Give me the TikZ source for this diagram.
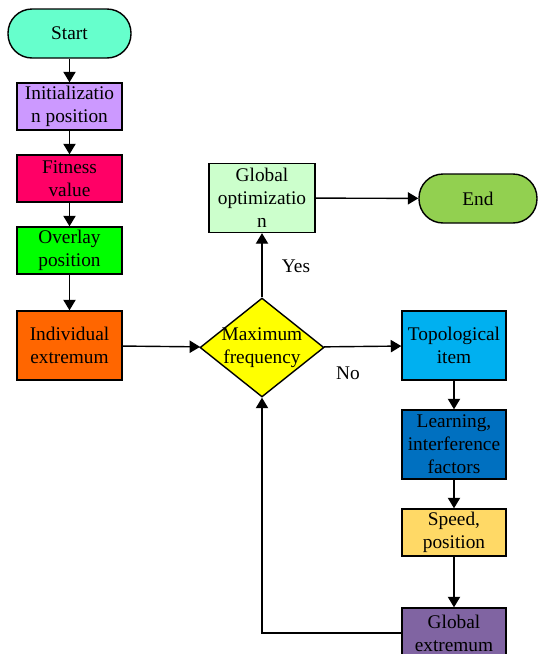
\documentclass[tikz,border=0pt]{standalone}
\usepackage{fontspec}
\setmainfont{Liberation Serif}
\usetikzlibrary{shapes.geometric,arrows.meta}
\definecolor{startCol}{HTML}{66FFCC}
\definecolor{initCol}{HTML}{CC99FF}
\definecolor{fitCol}{HTML}{FF0066}
\definecolor{overCol}{HTML}{00FF00}
\definecolor{indCol}{HTML}{FF6600}
\definecolor{freqCol}{HTML}{FFFF00}
\definecolor{gOptCol}{HTML}{CCFFCC}
\definecolor{endCol}{HTML}{92D050}
\definecolor{topoCol}{HTML}{00B0F0}
\definecolor{learnCol}{HTML}{0070C0}
\definecolor{speedCol}{HTML}{FFD966}
\definecolor{gExtCol}{HTML}{8064A2}

\begin{document}
\begin{tikzpicture}[x=0.02cm,y=-0.02cm,
    font=\rmfamily\fontsize{11}{13}\selectfont,
    stepbox/.style={draw, line width=0.8pt, minimum width=2.1cm, minimum height=0.94cm, inner sep=1pt, align=center},
    tallbox/.style={stepbox, minimum height=1.38cm},
    termbox/.style={draw, line width=0.8pt, rounded corners=0.48cm, minimum width=2.4cm, minimum height=0.98cm, align=center},
    flow/.style={line width=0.8pt, -{Triangle[width=7pt,length=6pt]}}]
    % page frame
    \useasboundingbox (0,0) rectangle (538,654);
    % left column
    \node[termbox, fill=startCol, minimum width=2.46cm] (start) at (69.5,33.5) {Start};
    \node[stepbox, fill=initCol] (init) at (69.5,106.5) {Initializatio\\n position};
    \node[stepbox, fill=fitCol] (fit) at (69.5,178.5) {Fitness\\value};
    \node[stepbox, fill=overCol] (over) at (69.5,250.5) {Overlay\\position};
    \node[tallbox, fill=indCol] (ind) at (69.5,345.5) {Individual\\extremum};
    % decision
    \node[diamond, aspect=1.25, draw, line width=0.8pt, fill=freqCol, minimum width=2.48cm, minimum height=1.98cm, inner sep=-4pt, align=center] (freq) at (262,347.5) {Maximum\\frequency};
    % yes branch
    \node[tallbox, fill=gOptCol, minimum width=2.12cm] (gopt) at (262,198) {Global\\optimizatio\\n};
    \node[termbox, fill=endCol, minimum width=2.36cm] (end) at (478,198.5) {End};
    % no branch
    \node[tallbox, fill=topoCol, minimum width=2.08cm] (topo) at (454,345.5) {Topological\\item};
    \node[tallbox, fill=learnCol, minimum width=2.08cm] (learn) at (454,444.5) {Learning,\\interference\\factors};
    \node[stepbox, fill=speedCol, minimum width=2.08cm] (speed) at (454,532.5) {Speed,\\position};
    \node[stepbox, fill=gExtCol, minimum width=2.08cm, minimum height=1.0cm] (gext) at (454,633) {Global\\extremum};
    % arrows
    \draw[flow] (start) -- (init);
    \draw[flow] (init) -- (fit);
    \draw[flow] (fit) -- (over);
    \draw[flow] (over) -- (ind);
    \draw[flow] (ind) -- (freq);
    \draw[flow] (freq) -- (gopt);
    \draw[flow] (gopt) -- (end);
    \draw[flow] (freq) -- (topo);
    \draw[flow] (topo) -- (learn);
    \draw[flow] (learn) -- (speed);
    \draw[flow] (speed) -- (gext);
    \draw[flow] (gext.west) -| (freq.south);
    % labels
    \node (yes) at (296,266) {Yes};
    \node (no) at (348,373) {No};
\end{tikzpicture}
\end{document}
